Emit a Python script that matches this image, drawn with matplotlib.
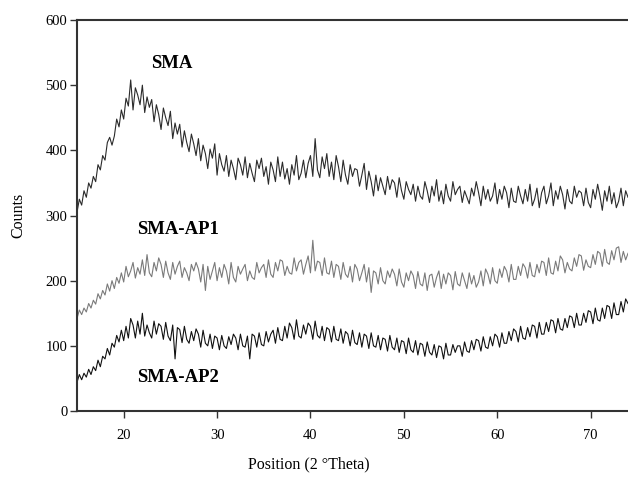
import numpy as np
import matplotlib
matplotlib.use("Agg")
import matplotlib.pyplot as plt

# 2 theta grid (0.25 deg step), counts
two_theta = np.linspace(15, 74, 237)

sma = [
    305, 325, 316, 338, 328, 350, 342, 360, 352, 378, 370, 392, 385, 412, 420, 408,
    422, 448, 436, 462, 448, 480, 468, 508, 462, 496, 485, 470, 500, 458, 482, 466,
    478, 444, 470, 455, 432, 465, 450, 438, 460, 418, 442, 425, 440, 405, 430, 412,
    398, 425, 410, 392, 418, 384, 408, 395, 372, 402, 388, 410, 362, 395, 378, 368,
    392, 360, 385, 372, 355, 388, 378, 362, 390, 358, 380, 365, 352, 385, 372, 388,
    360, 375, 348, 382, 370, 352, 390, 360, 382, 356, 372, 348, 378, 362, 392, 355,
    365, 385, 358, 380, 392, 360, 418, 370, 358, 390, 372, 395, 360, 382, 355, 392,
    375, 352, 385, 362, 348, 378, 360, 372, 370, 345, 362, 380, 340, 368, 352, 330,
    362, 338, 358, 345, 332, 360, 340, 355, 350, 328, 358, 338, 325, 352, 340, 332,
    348, 322, 345, 330, 325, 352, 338, 320, 345, 330, 355, 322, 338, 318, 348, 330,
    322, 352, 332, 340, 345, 320, 338, 328, 318, 342, 330, 352, 335, 315, 345, 325,
    340, 322, 330, 350, 318, 340, 325, 345, 335, 312, 342, 322, 320, 345, 330, 318,
    340, 322, 348, 315, 325, 342, 312, 335, 345, 318, 330, 350, 315, 338, 325, 345,
    332, 310, 340, 322, 318, 345, 328, 338, 335, 315, 342, 320, 312, 340, 325, 348,
    330, 308, 338, 322, 345, 318, 335, 312, 322, 342, 315, 338, 328,
]

sma_ap1 = [
    142, 155, 148, 158, 152, 165, 158, 170, 164, 180, 172, 185, 178, 195, 184, 200,
    188, 205, 196, 212, 198, 222, 206, 215, 228, 204, 220, 210, 232, 208, 240, 212,
    206, 228, 215, 235, 225, 205, 230, 212, 202, 228, 210, 222, 230, 205, 220, 212,
    200, 225, 215, 228, 218, 198, 225, 185, 222, 202, 215, 228, 200, 220, 205, 225,
    215, 195, 228, 205, 198, 222, 210, 218, 225, 200, 215, 205, 202, 228, 212, 220,
    225, 205, 232, 210, 205, 228, 215, 232, 230, 208, 222, 212, 210, 235, 215, 228,
    232, 210, 225, 238, 212, 262, 215, 230, 228, 208, 235, 212, 210, 230, 205, 225,
    222, 202, 228, 210, 205, 222, 198, 225, 218, 200, 212, 225, 198, 220, 182, 215,
    212, 195, 220, 200, 195, 215, 205, 218, 210, 192, 218, 198, 190, 212, 200, 215,
    208, 188, 214, 195, 192, 212, 185, 208, 210, 190, 205, 215, 188, 210, 195, 212,
    208, 186, 214, 195, 192, 212, 200, 188, 212, 195, 208, 190, 198, 215, 192, 218,
    210, 195, 220, 200, 196, 218, 205, 222, 215, 198, 225, 202, 202, 222, 208, 226,
    220, 204, 228, 208, 206, 225, 212, 230, 228, 208, 235, 212, 210, 230, 215, 238,
    232, 212, 228, 218, 215, 235, 222, 240, 238, 216, 232, 222, 220, 240, 225, 245,
    242, 222, 248, 228, 225, 246, 232, 250, 252, 228, 245, 232, 242,
]

sma_ap2 = [
    44, 56, 48, 58, 52, 64, 56, 68, 62, 78, 68, 84, 80, 96, 86, 104,
    98, 116, 106, 124, 108, 130, 112, 142, 132, 112, 138, 118, 150, 115, 132, 120,
    112, 138, 118, 134, 130, 110, 136, 115, 108, 132, 80, 128, 125, 105, 130, 110,
    104, 122, 108, 126, 118, 98, 124, 104, 100, 118, 96, 115, 112, 94, 116, 100,
    96, 114, 102, 118, 112, 94, 118, 100, 98, 115, 80, 118, 115, 98, 120, 102,
    100, 122, 106, 118, 124, 104, 128, 110, 108, 130, 112, 135, 128, 110, 140, 115,
    112, 132, 118, 135, 130, 110, 138, 116, 112, 130, 108, 128, 125, 106, 130, 110,
    108, 126, 104, 122, 118, 100, 124, 105, 102, 120, 98, 118, 115, 96, 120, 100,
    98, 116, 94, 112, 110, 92, 116, 98, 94, 112, 90, 108, 106, 88, 112, 94,
    90, 108, 86, 104, 102, 84, 106, 90, 86, 102, 82, 100, 98, 80, 104, 86,
    86, 102, 90, 100, 100, 84, 106, 92, 90, 108, 94, 110, 108, 92, 114, 98,
    96, 114, 100, 118, 114, 98, 120, 104, 104, 122, 108, 126, 122, 106, 130, 112,
    110, 128, 114, 132, 130, 112, 136, 118, 118, 136, 122, 140, 138, 120, 142, 126,
    124, 142, 128, 146, 144, 128, 150, 132, 132, 150, 136, 154, 152, 134, 158, 140,
    138, 158, 142, 162, 160, 142, 166, 148, 148, 168, 152, 172, 165,
]

plt.rcParams['font.family'] = ['Liberation Serif', 'DejaVu Serif']

fig = plt.figure(figsize=(6.28, 4.8), dpi=100)
ax = fig.add_axes([0.1226, 0.1437, 0.8774, 0.8146])

ax.plot(two_theta, sma, color="#2b2b2b", lw=0.8)
ax.plot(two_theta, sma_ap1, color="#7a7a7a", lw=0.8)
ax.plot(two_theta, sma_ap2, color="#111111", lw=0.8)

ax.text(25.1, 534, "SMA", fontsize=13.5, fontweight="bold", ha="center", va="center")
ax.text(25.8, 278, "SMA-AP1", fontsize=13.5, fontweight="bold", ha="center", va="center")
ax.text(25.8, 52, "SMA-AP2", fontsize=13.5, fontweight="bold", ha="center", va="center")

ax.set_xlim(15, 74)
ax.set_ylim(0, 600)
ax.set_xticks([20, 30, 40, 50, 60, 70])
ax.set_yticks([0, 100, 200, 300, 400, 500, 600])
ax.tick_params(labelsize=10.5, length=5, width=1, color="#333333")
ax.tick_params(axis="x", pad=8)
ax.tick_params(axis="y", pad=2)
ax.spines["right"].set_visible(False)
for s in ["left", "bottom", "top"]:
    ax.spines[s].set_linewidth(1.5)
    ax.spines[s].set_color("#333333")

ax.set_ylabel("Counts", fontsize=11.5, labelpad=14)
fig.text(309 / 628, 1 - 464 / 480, "Position (2 \u00b0Theta)", fontsize=11.5, ha="center", va="center")

plt.savefig("out.png", dpi=100)
